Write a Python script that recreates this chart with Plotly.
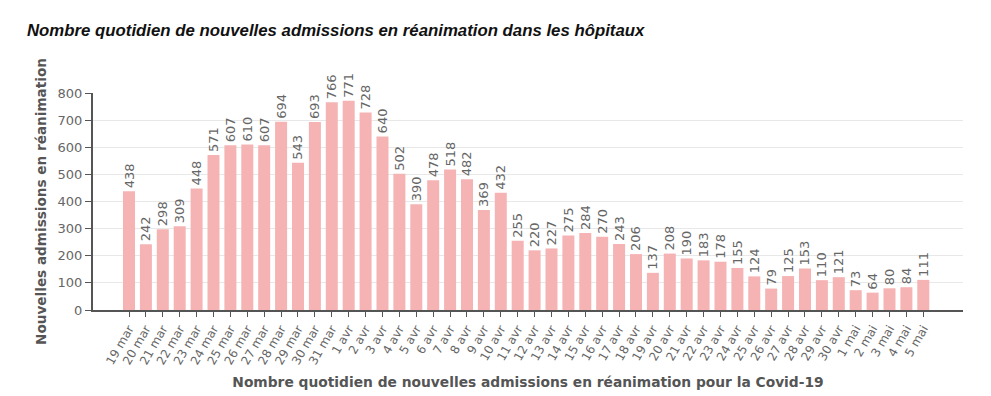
import plotly.graph_objects as go

dates = ["19 mar", "20 mar", "21 mar", "22 mar", "23 mar", "24 mar", "25 mar", "26 mar",
         "27 mar", "28 mar", "29 mar", "30 mar", "31 mar",
         "1 avr", "2 avr", "3 avr", "4 avr", "5 avr", "6 avr", "7 avr", "8 avr", "9 avr",
         "10 avr", "11 avr", "12 avr", "13 avr", "14 avr", "15 avr", "16 avr", "17 avr",
         "18 avr", "19 avr", "20 avr", "21 avr", "22 avr", "23 avr", "24 avr", "25 avr",
         "26 avr", "27 avr", "28 avr", "29 avr", "30 avr",
         "1 mai", "2 mai", "3 mai", "4 mai", "5 mai"]
admissions = [438, 242, 298, 309, 448, 571, 607, 610, 607, 694, 543, 693, 766,
              771, 728, 640, 502, 390, 478, 518, 482, 369, 432, 255, 220, 227, 275,
              284, 270, 243, 206, 137, 208, 190, 183, 178, 155, 124, 79, 125, 153,
              110, 121, 73, 64, 80, 84, 111]
y_ticks = [0, 100, 200, 300, 400, 500, 600, 700, 800]

TXT = "#666666"
AX = "#555555"
OFF = 8  # page body margin

fig = go.Figure(go.Bar(
    x=list(range(len(dates))), y=admissions,
    marker=dict(color="#f5b3b4", line=dict(width=0)),
    width=0.71,
    text=[str(v) for v in admissions], textposition="outside", textangle=-90,
    constraintext="none",
    textfont=dict(family="DejaVu Sans", size=13, color=TXT),
    cliponaxis=False, hoverinfo="x+y",
))

fig.update_layout(
    width=991, height=396,
    margin=dict(l=93 - OFF, r=28 + OFF, t=93 - OFF, b=86 + OFF, autoexpand=False),
    paper_bgcolor="white", plot_bgcolor="white",
    showlegend=False,
    title=dict(
        text="<b><i>Nombre quotidien de nouvelles admissions en réanimation dans les hôpitaux</i></b>",
        font=dict(family="Liberation Sans, Arial", size=16.8, color="#111111"),
        x=(27 - OFF) / 991, xref="container", xanchor="left",
        y=1 - (30 - OFF) / 396, yref="container", yanchor="middle",
        pad=dict(l=0, r=0, t=0, b=0),
    ),
    xaxis=dict(
        tickmode="array", tickvals=list(range(len(dates))), ticktext=dates,
        range=[-2.13, 49.35], tickangle=-60, automargin=False,
        tickfont=dict(family="DejaVu Sans", size=12, color=TXT),
        ticks="outside", ticklen=5, tickcolor=AX, tickwidth=1,
        showline=True, linecolor=AX, linewidth=2, showgrid=False, zeroline=False,
        title=dict(text="<b>Nombre quotidien de nouvelles admissions en réanimation pour la Covid-19</b>",
                   font=dict(family="DejaVu Sans", size=13.8, color="#555555"), standoff=11),
    ),
    yaxis=dict(
        range=[0, 800], tickvals=y_ticks, automargin=False,
        tickfont=dict(family="DejaVu Sans", size=13, color=TXT),
        ticks="outside", ticklen=6, tickcolor=AX, tickwidth=1,
        showline=True, linecolor=AX, linewidth=2,
        showgrid=True, gridcolor="#e8e8e8", gridwidth=1, zeroline=False,
        title=dict(text="<b>Nouvelles admissions en réanimation</b>",
                   font=dict(family="DejaVu Sans", size=13.6, color="#555555"), standoff=8),
    ),
)

fig.write_html("out.html")
